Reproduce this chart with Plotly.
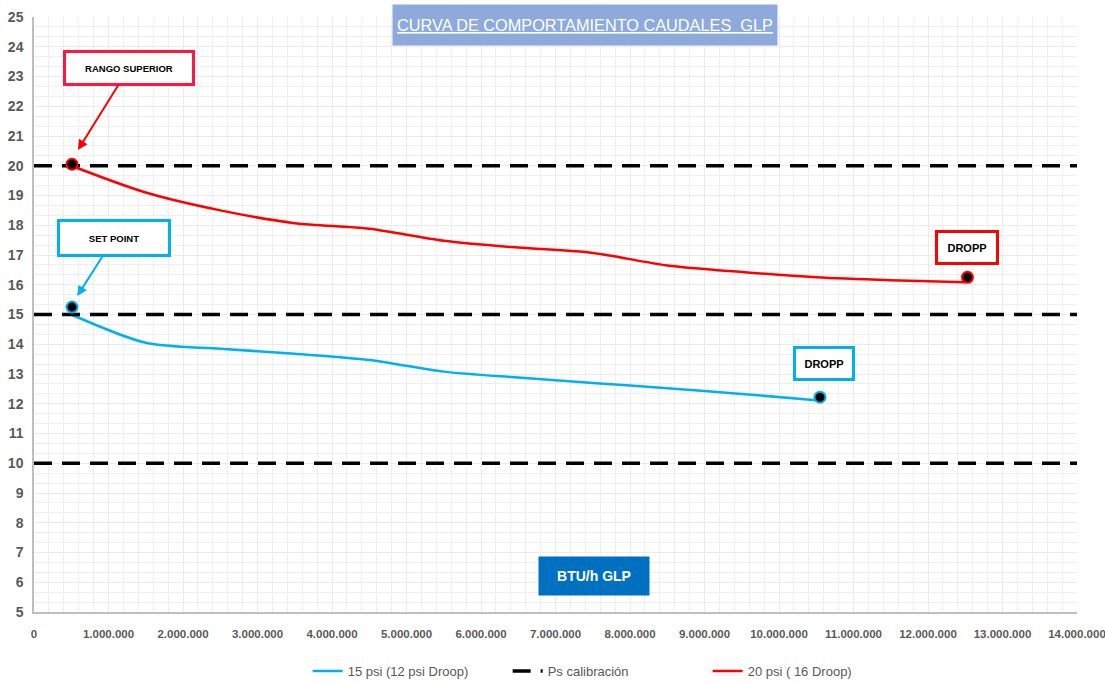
import plotly.graph_objects as go

# ---- data ----
x_15 = [500000, 1500000, 2500000, 3500000, 4500000, 5500000, 6500000,
        7500000, 8500000, 9500000, 10500000]
y_15 = [15.0, 14.05, 13.85, 13.68, 13.47, 13.08, 12.88, 12.7, 12.52, 12.33, 12.12]

x_20 = [500000, 1500000, 2500000, 3500000, 4500000, 5500000, 6500000,
        7500000, 8500000, 9500000, 10500000, 11500000, 12500000]
y_20 = [20.0, 19.1, 18.5, 18.07, 17.88, 17.48, 17.25, 17.07, 16.65, 16.43,
        16.25, 16.15, 16.08]

ps_levels = [20, 15, 10]
x_range = [0, 14000000]

mk15_x = [510000, 10550000]
mk15_y = [15.25, 12.22]
mk20_x = [510000, 12530000]
mk20_y = [20.05, 16.25]

FONT = "Liberation Sans, Arial, sans-serif"
BLUE = "#00B0F0"
RED = "#FF0000"
GRAY = "#595959"

fig = go.Figure()

fig.add_trace(go.Scatter(x=x_15, y=y_15, mode="lines", name="15 psi (12 psi Droop)",
                         line=dict(color=BLUE, width=2.5, shape="spline", smoothing=0.8)))

ps_x, ps_y = [], []
for lv in ps_levels:
    ps_x += [x_range[0], x_range[1], None]
    ps_y += [lv, lv, None]
fig.add_trace(go.Scatter(x=ps_x, y=ps_y, mode="lines", name="Ps calibración",
                         line=dict(color="black", width=3.5, dash="18px,10px")))

fig.add_trace(go.Scatter(x=x_20, y=y_20, mode="lines", name="20 psi ( 16 Droop)",
                         line=dict(color=RED, width=2.5, shape="spline", smoothing=0.8)))

fig.add_trace(go.Scatter(x=mk15_x, y=mk15_y, mode="markers", showlegend=False,
                         marker=dict(size=11, color="black", line=dict(color=BLUE, width=2))))
fig.add_trace(go.Scatter(x=mk20_x, y=mk20_y, mode="markers", showlegend=False,
                         marker=dict(size=11, color="black", line=dict(color=RED, width=2))))

annotations = [
    dict(text="<u>CURVA DE COMPORTAMIENTO CAUDALES  GLP</u>", xref="paper", yref="paper",
         x=0.528, y=0.9866, xanchor="center", yanchor="middle", showarrow=False,
         font=dict(family=FONT, size=16.3, color="white"), bgcolor="#8EA9DB",
         width=382, height=38),
    dict(text="<b>RANGO SUPERIOR</b>", x=590000, y=20.53, ax=51, ay=-82,
         showarrow=True, arrowhead=2, arrowsize=1, arrowwidth=2, arrowcolor=RED,
         font=dict(family=FONT, size=9.5, color="black"), bgcolor="white",
         bordercolor="#FF1744", borderwidth=3, width=124, height=28),
    dict(text="<b>SET POINT</b>", x=580000, y=15.62, ax=37, ay=-58,
         showarrow=True, arrowhead=2, arrowsize=1, arrowwidth=2, arrowcolor=BLUE,
         font=dict(family=FONT, size=9.5, color="black"), bgcolor="white",
         bordercolor=BLUE, borderwidth=3, width=106, height=30),
    dict(text="<b>DROPP</b>", x=12530000, y=17.24, showarrow=False,
         font=dict(family=FONT, size=11, color="black"), bgcolor="white",
         bordercolor=RED, borderwidth=3, width=56, height=27),
    dict(text="<b>DROPP</b>", x=10600000, y=13.34, showarrow=False,
         font=dict(family=FONT, size=11, color="black"), bgcolor="white",
         bordercolor=BLUE, borderwidth=3, width=54, height=27),
    dict(text="<b>BTU/h GLP</b>", x=7520000, y=6.21, showarrow=False,
         font=dict(family=FONT, size=14, color="white"), bgcolor="#0070C0",
         width=108, height=36),
]

fig.update_layout(
    width=1105, height=684,
    margin=dict(l=34, r=28, t=17, b=72),
    paper_bgcolor="white", plot_bgcolor="white",
    separators=",.",
    font=dict(family=FONT, color=GRAY),
    showlegend=True,
    legend=dict(orientation="h", x=0.55, xanchor="center", yref="container",
                y=0.019, yanchor="middle",
                font=dict(family=FONT, size=13, color=GRAY), itemwidth=30,
                entrywidth=155, bgcolor="rgba(0,0,0,0)"),
    annotations=annotations,
    xaxis=dict(range=x_range, dtick=1000000, tickformat=",.0f", automargin=False,
               tickangle=0, ticklabeloverflow="allow",
               showgrid=True, gridcolor="#EBEBEB", gridwidth=1,
               minor=dict(dtick=200000, showgrid=True, gridcolor="#EFEFEF", gridwidth=1),
               showline=True, linecolor="#BFBFBF", linewidth=1.5, zeroline=False,
               ticks="", tickfont=dict(family=FONT, size=11.5, color=GRAY, weight="bold"),
               ticklabelstandoff=10),
    yaxis=dict(range=[5, 25], dtick=1, automargin=False,
               showgrid=True, gridcolor="#EBEBEB", gridwidth=1,
               minor=dict(dtick=1/3, showgrid=True, gridcolor="#EFEFEF", gridwidth=1),
               showline=True, linecolor="#BFBFBF", linewidth=1.5, zeroline=False,
               ticks="", tickfont=dict(family=FONT, size=14, color=GRAY, weight="bold"),
               ticklabelstandoff=6),
)

fig.write_html("out.html", config={"displayModeBar": False},
               post_script="document.body.style.margin='0';document.body.style.overflow='hidden';")
